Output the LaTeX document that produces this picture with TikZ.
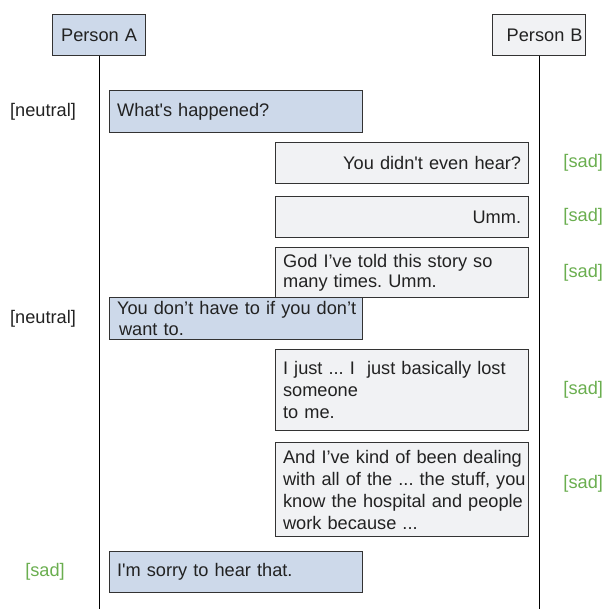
\documentclass[tikz,border=0pt]{standalone}
\usepackage{fontspec}
\setmainfont{Liberation Sans}
\usetikzlibrary{positioning}

\definecolor{bluefill}{HTML}{CDD9EA}
\definecolor{greyfill}{HTML}{F1F2F4}
\definecolor{boxline}{HTML}{333333}
\definecolor{txt}{HTML}{222222}
\definecolor{sadgreen}{HTML}{6AAE4F}
\newcommand\dlgfont[1]{\fontsize{9.1}{#1}\selectfont\frenchspacing\hyphenpenalty=10000\relax}

\begin{document}
\begin{tikzpicture}[
  x=0.5pt, y=-0.5pt,
  every node/.style={font=\dlgfont{11}, text=txt},
  head/.style={draw=boxline, line width=0.6pt, anchor=north west, minimum height=20.5pt, inner xsep=1.5pt, text width=43.5pt},
  msgA/.style={draw=boxline, line width=0.6pt, fill=bluefill, anchor=north west, inner xsep=3.75pt, text width=119pt, align=left},
  msgB/.style={draw=boxline, line width=0.6pt, fill=greyfill, anchor=north west, inner xsep=3.75pt, text width=119pt, align=left},
  life/.style={draw=black, line width=0.5pt},
  emo/.style={inner sep=0pt},
  sad/.style={emo, text=sadgreen},
]
\useasboundingbox (0,0) rectangle (605,609);

% ---------- lifeline heads ----------
\node[head, fill=bluefill, align=center] (pa) at (52,14) {Person A};
\node[head, fill=greyfill, align=right] (pb) at (492,14) {Person B};
\coordinate (bot) at (0,609);
\draw[life] (pa.south) -- (pa.south |- bot);
\draw[life] (pb.south) -- (pb.south |- bot);

% ---------- messages ----------
\node[msgA, minimum height=21pt] (m1) at (109,90) {What\textquotesingle s happened?};
\node[msgB, minimum height=20.5pt, align=right] (b1) at (275,142) {You didn\textquotesingle t even hear?};
\node[msgB, minimum height=20.5pt, align=right] (b2) at (275,196) {Umm.};
\node[msgB, minimum height=20.5pt, font=\dlgfont{10}] (b3) at (275,247)
  {God I’ve told this story so\\many times. Umm.};
\node[msgA, minimum height=21pt, inner ysep=0.5pt, font=\dlgfont{10.5}] (m2) at (109,297)
  {\mbox{You don’t have to if you don’t}\\\hspace{1pt}want to.};
\node[msgB, minimum height=40.5pt] (b4) at (275,349)
  {\mbox{I just ... I\ \ just basically lost}\\someone\\to me.};
\node[msgB, minimum height=47pt] (b5) at (275,442)
  {\mbox{And I’ve kind of been dealing}\\\mbox{with all of the ... the stuff, you}\\\mbox{know the hospital and people}\\work because ...};
\node[msgA, minimum height=20.5pt] (m3) at (109,551) {I\textquotesingle m sorry to hear that.};

% ---------- emotion tags ----------
\path (m1.west) ++(-66,0) node[emo] (e1) {[neutral]};
\path (m2.west) ++(-66,0) node[emo] (e2) {[neutral]};
\path (m3.west) ++(-64,0) node[sad] (e3) {[sad]};
\foreach \m in {b1,b2,b3,b4}{
  \path (\m.east) ++(54,0) node[sad] (s\m) {[sad]};
}
\path (b5.east) ++(54,-6) node[sad] (sb5) {[sad]};
\end{tikzpicture}
\end{document}
